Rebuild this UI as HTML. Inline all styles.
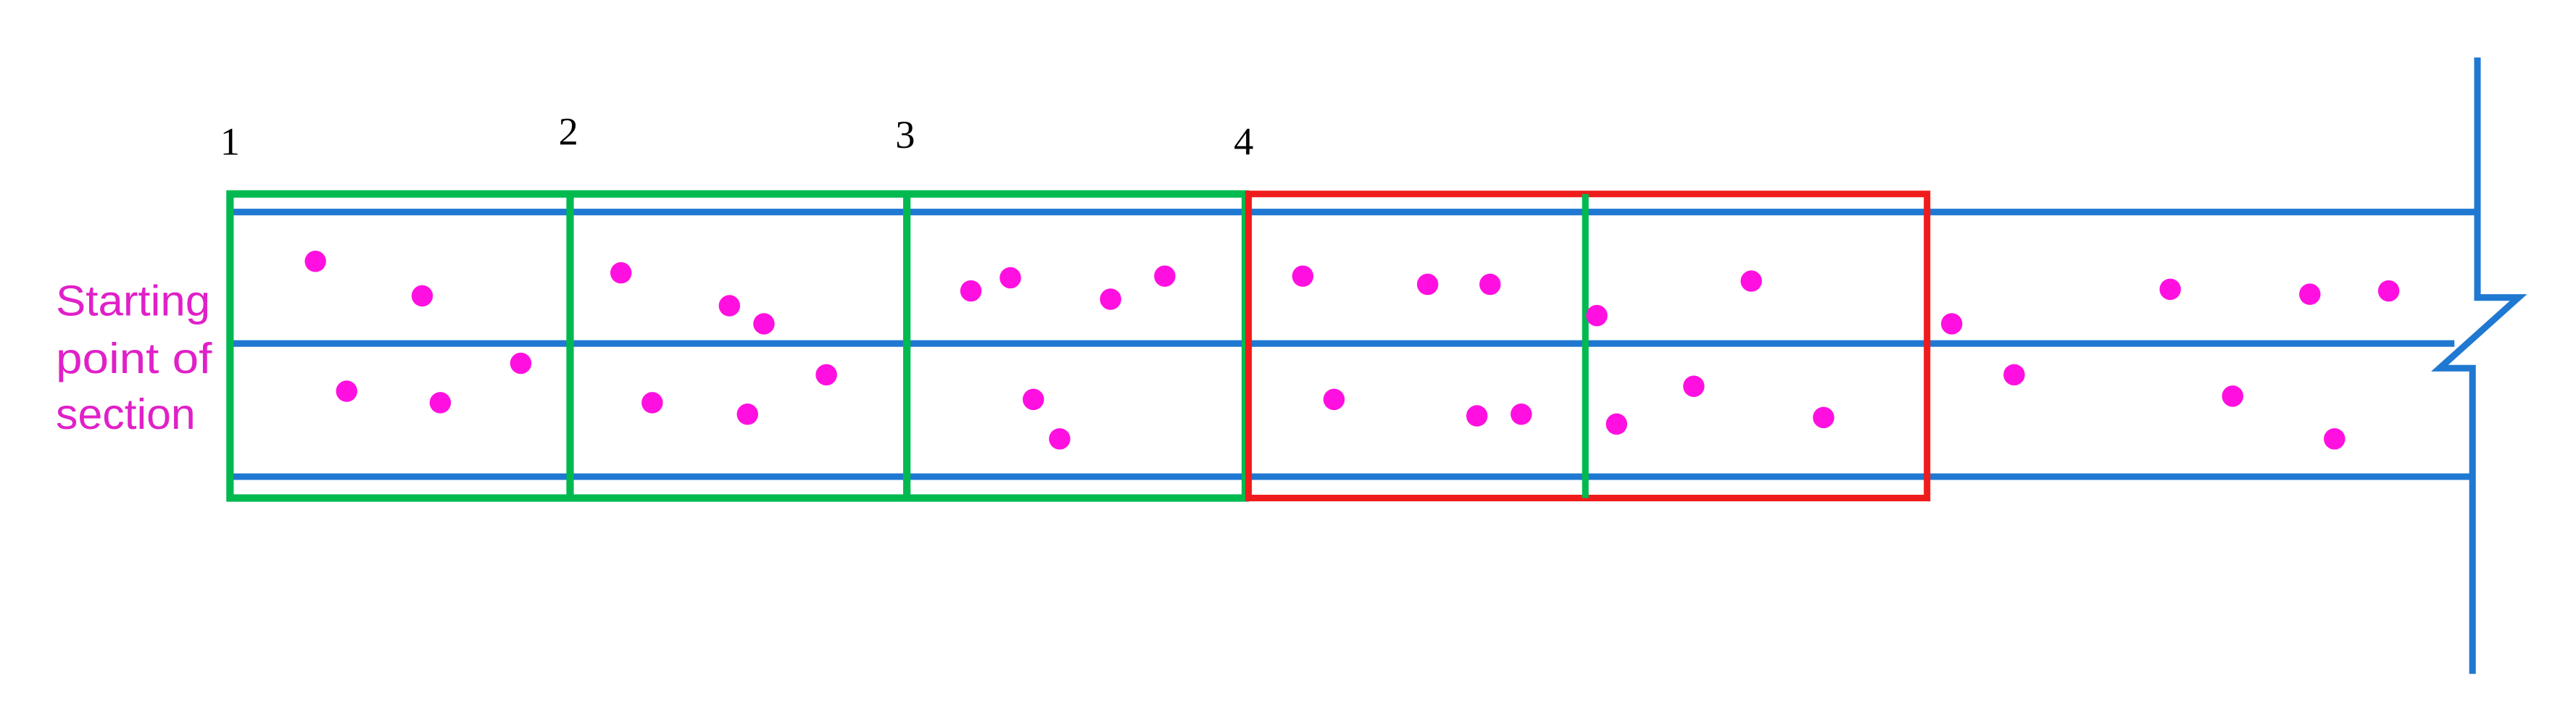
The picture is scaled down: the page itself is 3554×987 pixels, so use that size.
<!DOCTYPE html>
<html><head><meta charset="utf-8"><style>
html,body{margin:0;padding:0;background:#fff;}
svg{display:block;}
</style></head><body>
<svg width="3554" height="987" viewBox="0 0 1568 435" preserveAspectRatio="none" xmlns="http://www.w3.org/2000/svg">
<rect width="1568" height="435" fill="#fff"/>
<g stroke="#1f78d1" stroke-width="4" fill="none">
<line x1="138" y1="129" x2="1508" y2="129"/>
<line x1="138" y1="209" x2="1494" y2="209"/>
<line x1="138" y1="290" x2="1505" y2="290"/>
<polyline points="1508,35 1508,181 1533,181 1485,224 1505,224 1505,410" stroke-linejoin="miter"/>
</g>
<g stroke="#00b94f" stroke-width="4.5" fill="none">
<rect x="140" y="118" width="618" height="185"/>
<line x1="347" y1="118" x2="347" y2="303"/>
<line x1="552" y1="118" x2="552" y2="303"/>
</g>
<g stroke="#f01c1c" stroke-width="4" fill="none">
<rect x="760" y="118" width="413" height="185"/>
</g>
<line x1="965" y1="118" x2="965" y2="303" stroke="#00b94f" stroke-width="4"/>
<g fill="#ff10e0">
<circle cx="192" cy="159" r="6.5"/><circle cx="257" cy="180" r="6.5"/><circle cx="211" cy="238" r="6.5"/><circle cx="268" cy="245" r="6.5"/><circle cx="317" cy="221" r="6.5"/>
<circle cx="378" cy="166" r="6.5"/><circle cx="444" cy="186" r="6.5"/><circle cx="465" cy="197" r="6.5"/><circle cx="397" cy="245" r="6.5"/><circle cx="455" cy="252" r="6.5"/><circle cx="503" cy="228" r="6.5"/>
<circle cx="591" cy="177" r="6.5"/><circle cx="615" cy="169" r="6.5"/><circle cx="676" cy="182" r="6.5"/><circle cx="709" cy="168" r="6.5"/><circle cx="629" cy="243" r="6.5"/><circle cx="645" cy="267" r="6.5"/>
<circle cx="793" cy="168" r="6.5"/><circle cx="869" cy="173" r="6.5"/><circle cx="907" cy="173" r="6.5"/><circle cx="812" cy="243" r="6.5"/><circle cx="899" cy="253" r="6.5"/><circle cx="926" cy="252" r="6.5"/>
<circle cx="972" cy="192" r="6.5"/><circle cx="1066" cy="171" r="6.5"/><circle cx="1031" cy="235" r="6.5"/><circle cx="984" cy="258" r="6.5"/><circle cx="1110" cy="254" r="6.5"/>
<circle cx="1188" cy="197" r="6.5"/><circle cx="1226" cy="228" r="6.5"/><circle cx="1321" cy="176" r="6.5"/><circle cx="1406" cy="179" r="6.5"/><circle cx="1454" cy="177" r="6.5"/><circle cx="1359" cy="241" r="6.5"/><circle cx="1421" cy="267" r="6.5"/>
</g>
<g font-family="Liberation Serif, serif" font-size="24" fill="#000">
<text x="134" y="94">1</text>
<text x="340" y="88">2</text>
<text x="545" y="90">3</text>
<text x="751" y="94">4</text>
</g>
<g font-family="Liberation Sans, sans-serif" font-size="26" fill="#e020c8">
<text x="34" y="192" textLength="94" lengthAdjust="spacingAndGlyphs">Starting</text>
<text x="34" y="227" textLength="95" lengthAdjust="spacingAndGlyphs">point of</text>
<text x="34" y="261" textLength="85" lengthAdjust="spacingAndGlyphs">section</text>
</g>
</svg>
</body></html>
